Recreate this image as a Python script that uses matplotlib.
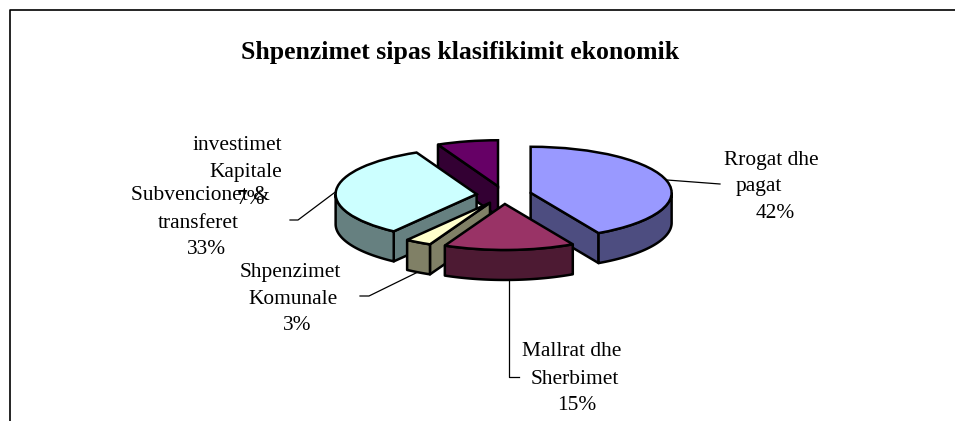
import numpy as np
import matplotlib
matplotlib.use('Agg')
import matplotlib.pyplot as plt
from matplotlib.patches import Polygon

plt.rcParams['font.family'] = ['Liberation Serif', 'DejaVu Serif']

# data
title = 'Shpenzimet sipas klasifikimit ekonomik'
categories = ['Rrogat dhe\npagat', 'Mallrat dhe\nSherbimet', 'Shpenzimet\nKomunale',
              'Subvencionet &\ntransferet', 'investimet\nKapitale']
values = [42, 15, 3, 33, 7]
top_colors = ['#9999FF', '#993366', '#FFFFCC', '#CCFFFF', '#660066']
side_colors = ['#4D4D80', '#4D1A33', '#808066', '#668080', '#330033']
draw_order = [4, 3, 2, 0, 1]  # back to front

W, H = 955, 421
CX, CY = 504, 195   # pie centre, pixels
RX, RY = 141, 46    # squashed radii, pixels
DEPTH = 30 / RY     # pie units
EXPLODE = 0.195

fig = plt.figure(figsize=(W / 100, H / 100), dpi=100)
ax = fig.add_axes([0, 0, 1, 1])

wedges, _ = ax.pie(values, colors=top_colors, startangle=90, counterclock=False,
                   explode=[EXPLODE] * len(values),
                   wedgeprops={'edgecolor': 'black', 'linewidth': 1.8})

# pie() forces equal aspect, undo it so the circle becomes the tilted ellipse
ax.set_aspect('auto')
ax.set_xlim(-CX / RX, (W - CX) / RX)
ax.set_ylim((CY - H) / RY, CY / RY)
ax.axis('off')


def rim(w, t):
    return np.array([w.center[0] + w.r * np.cos(np.radians(t)),
                     w.center[1] + w.r * np.sin(np.radians(t))])


def add_face(pts, color, z):
    ax.add_patch(Polygon(pts, closed=True, facecolor=color, edgecolor='black',
                         linewidth=1.8, joinstyle='round', zorder=z))


# extrude each slice: radial cut faces and the outer wall
for rank, i in enumerate(draw_order):
    w = wedges[i]
    z = 2 + rank * 3
    c = np.array(w.center)
    down = np.array([0, -DEPTH])
    t1, t2 = w.theta1, w.theta2
    if np.cos(np.radians(t2)) < -1e-6:
        p = rim(w, t2)
        add_face([c, p, p + down, c + down], side_colors[i], z)
    if np.cos(np.radians(t1)) > 1e-6:
        p = rim(w, t1)
        add_face([c, p, p + down, c + down], side_colors[i], z)
    # front part of the wall only (below the horizontal axis of the ellipse)
    ts = np.linspace(t1, t2, 200)
    ts = ts[np.sin(np.radians(ts)) <= 0]
    if len(ts) > 1:
        upper = np.array([rim(w, t) for t in ts])
        add_face(np.vstack([upper, upper[::-1] + down]), side_colors[i], z + 1)
    w.set_zorder(z + 2)


def px(x, y):
    return (x - CX) / RX, (CY - y) / RY


# leader lines, pixel positions
leaders = [[(667, 180), (720, 184)],
           [(509, 280), (509, 377), (519, 377)],
           [(420, 271), (369, 296), (360, 296)],
           [(338, 190), (298, 220), (290, 220)]]
for pts in leaders:
    xy = np.array([px(*p) for p in pts])
    ax.plot(xy[:, 0], xy[:, 1], color='black', lw=0.9, zorder=1)

# each text line centred where it sits in the picture (x, y per line)
label_pos = [[(771, 160), (759, 186), (775, 213)],
             [(572, 351), (575, 379), (577, 405)],
             [(290, 272), (293, 299), (297, 325)],
             [(200, 195), (198, 223), (206, 249)],
             [(237, 146), (246, 173), (251, 199)]]
for i, pos in enumerate(label_pos):
    lines = categories[i].split('\n') + ['%d%%' % values[i]]
    for s, (x, y) in zip(lines, pos):
        ax.text(*px(x, y), s, ha='center', va='center', fontsize=15.4, color='black', zorder=30)

ax.text(*px(460, 53), title, ha='center', va='center', fontsize=18.5, fontweight='bold', zorder=30)

# chart frame, only the top and left edges fall inside the crop
ax.plot(*zip(px(10, 421), px(10, 10), px(955, 10)), color='black', lw=1.2, zorder=1, clip_on=False)

fig.savefig('out.png', dpi=100)
